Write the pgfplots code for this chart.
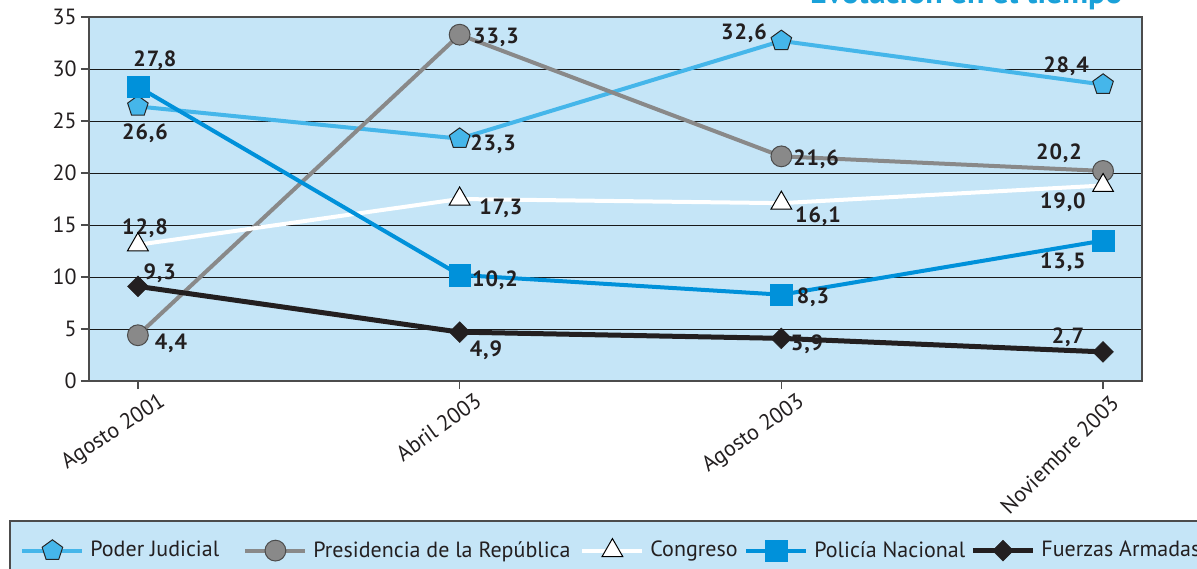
\documentclass[border=0pt]{standalone}
\usepackage{fontspec}
\setmainfont{PT Sans}
\newfontfamily\lblfont[LetterSpace=4]{PT Sans}
\usepackage{pgfplots}
\pgfplotsset{compat=1.18}
\usetikzlibrary{plotmarks}
\definecolor{bgblue}{HTML}{C5E5F7}
\definecolor{pjcol}{HTML}{45B6EA}
\definecolor{polcol}{HTML}{0091DA}
\definecolor{grcol}{HTML}{898989}
\definecolor{dk}{HTML}{231F20}
\definecolor{titlecol}{HTML}{1AA1D9}
\begin{document}
\begin{tikzpicture}[
  lbl/.style={font=\lblfont\bfseries\fontsize{11}{13}\selectfont, text=dk, inner sep=0pt},
  xtl/.style={font=\fontsize{11}{13}\selectfont, text=dk, inner sep=0pt, anchor=north east},
]
\draw[fill=bgblue, draw=black!70, line width=0.6pt] (5pt,-10pt) rectangle (620pt,23.5pt);
\begin{axis}[
  at={(44.5pt,93.5pt)}, anchor=south west,
  scale only axis, width=526.5pt, height=182pt,
  xmin=-0.152, xmax=3.121, ymin=0, ymax=35,
  clip=false,
  axis background/.style={fill=bgblue},
  axis line style={draw=black!70, line width=0.9pt},
  ytick={0,5,...,35},
  xtick={0,1,2,3}, xticklabels={},
  tick pos=left, tick align=outside,
  major tick length=4pt,
  tick style={draw=black!70, line width=0.7pt},
  ymajorgrids, major grid style={draw=black!90, line width=0.5pt},
  /pgf/number format/assume math mode=true,
  yticklabel style={font=\fontsize{11}{13}\selectfont, text=dk, inner sep=2pt},
  legend columns=5,
  legend style={at={(axis description cs:-0.0655,-0.4643)}, anchor=west,
    draw=none, fill=none, inner sep=0pt, font=\fontsize{11}{13}\selectfont,
    column sep=0pt, /tikz/every odd column/.append style={column sep=3pt},
    nodes={inner sep=0pt, text=dk}},
  legend image code/.code={\draw[mark repeat=2, mark phase=2, #1] plot coordinates {(0pt,0pt) (15pt,0pt) (30pt,0pt)};},
]
\addplot[pjcol, line width=2pt, mark=pentagon*, mark size=5.4pt,
  mark options={solid, fill=pjcol, draw=black!85, line width=0.5pt}]
  coordinates {(0,26.4) (1,23.3) (2,32.7) (3,28.5)};
\addlegendentry{\makebox[76.5pt][l]{Poder Judicial}}
\addplot[grcol, line width=2pt, mark=*, mark size=5.2pt,
  mark options={solid, fill=grcol, draw=black!70, line width=0.5pt}]
  coordinates {(0,4.4) (1,33.3) (2,21.6) (3,20.2)};
\addlegendentry{\makebox[133.5pt][l]{Presidencia de la República}}
\addplot[white, line width=2pt, mark=triangle*, mark size=6pt,
  mark options={solid, fill=white, draw=black, line width=0.5pt}]
  coordinates {(0,13.1) (1,17.5) (2,17.1) (3,18.8)};
\addlegendentry{\makebox[47pt][l]{Congreso}}
\addplot[polcol, line width=2pt, mark=square*, mark size=5.4pt,
  mark options={solid, fill=polcol, draw=polcol, line width=0.2pt}]
  coordinates {(0,28.3) (1,10.2) (2,8.3) (3,13.5)};
\addlegendentry{\makebox[78pt][l]{Policía Nacional}}
\addplot[dk, line width=2.5pt, mark=square*, mark size=3.7pt,
  mark options={solid, rotate=45, fill=dk, draw=dk, line width=0.2pt}]
  coordinates {(0,9.1) (1,4.7) (2,4.1) (3,2.8)};
\addlegendentry{Fuerzas Armadas}

% value labels
\node[lbl] at (axis cs:0.053,30.87) {27,8};
\node[lbl] at (axis cs:0.022,23.85) {26,6};
\node[lbl] at (axis cs:0.022,14.71) {12,8};
\node[lbl] at (axis cs:0.068,10.38) {9,3};
\node[lbl] at (axis cs:0.103,3.65) {4,4};
\node[lbl] at (axis cs:1.113,33.08) {33,3};
\node[lbl] at (axis cs:1.104,22.79) {23,3};
\node[lbl] at (axis cs:1.128,16.63) {17,3};
\node[lbl] at (axis cs:1.110,9.71) {10,2};
\node[lbl] at (axis cs:1.082,2.98) {4,9};
\node[lbl] at (axis cs:1.884,33.46) {32,6};
\node[lbl] at (axis cs:2.108,21.35) {21,6};
\node[lbl] at (axis cs:2.114,15.87) {16,1};
\node[lbl] at (axis cs:2.098,8.08) {8,3};
\node[lbl] at (axis cs:2.080,3.56) {3,9};
\node[lbl] at (axis cs:2.885,30.29) {28,4};
\node[lbl] at (axis cs:2.863,21.92) {20,2};
\node[lbl] at (axis cs:2.875,17.21) {19,0};
\node[lbl] at (axis cs:2.875,11.44) {13,5};
\node[lbl] at (axis cs:2.891,4.23) {2,7};

% category labels
\node[xtl, rotate=33] at ([xshift=10pt,yshift=-5pt]axis cs:0,0) {Agosto 2001};
\node[xtl, rotate=36] at ([xshift=7pt,yshift=-5pt]axis cs:1,0) {Abril 2003};
\node[xtl, rotate=35] at ([xshift=7.5pt,yshift=-5pt]axis cs:2,0) {Agosto 2003};
\node[xtl, rotate=45] at ([xshift=3pt,yshift=-6pt]axis cs:3,0) {Noviembre 2003};
\end{axis}
\node[anchor=base east, font=\bfseries\fontsize{16}{19}\selectfont, text=titlecol, inner sep=0pt] at (561.5pt,282pt) {Evolución en el tiempo};
\pgfresetboundingbox
\useasboundingbox (0pt,0pt) rectangle (598.5pt,284pt);
\end{tikzpicture}
\end{document}
